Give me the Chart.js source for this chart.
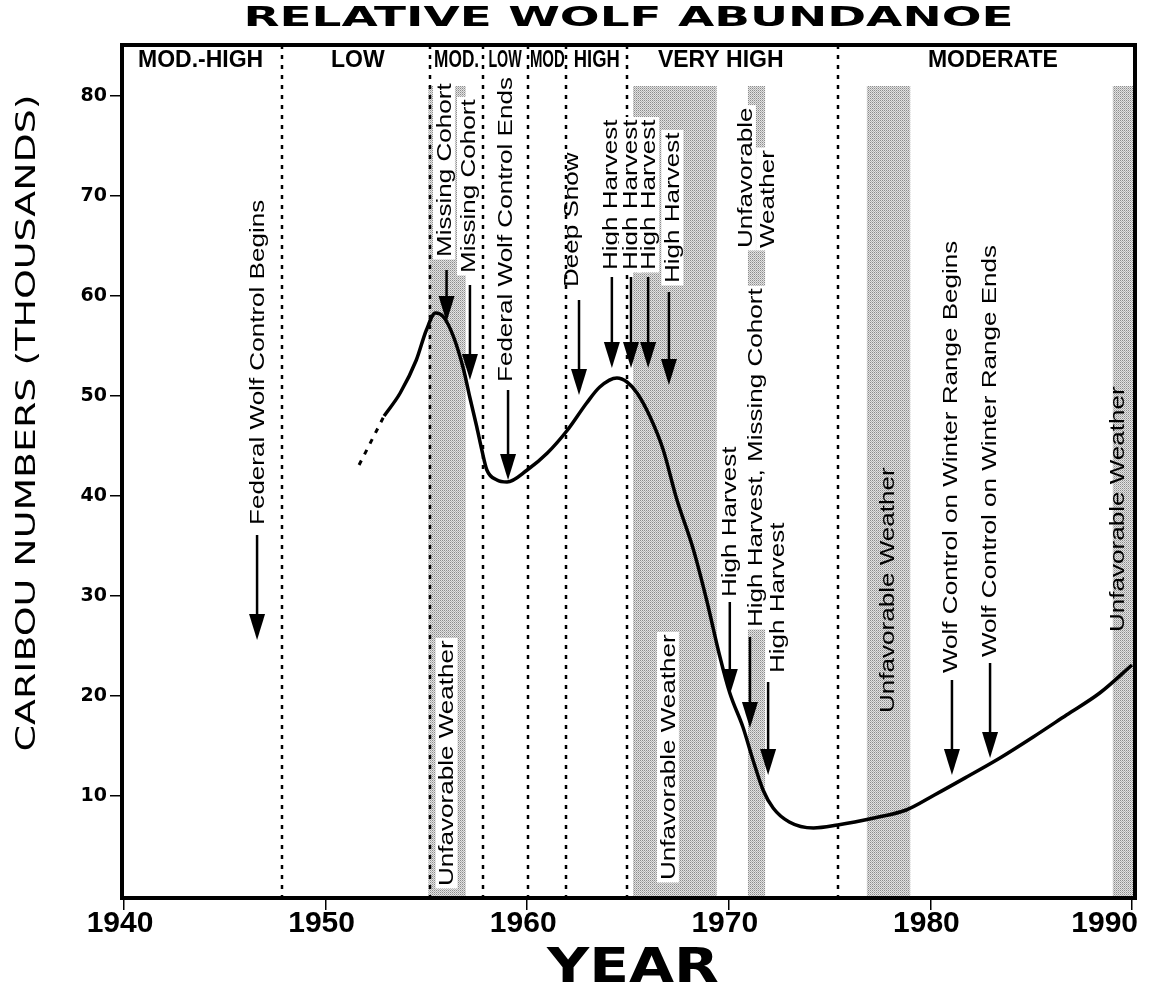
<!DOCTYPE html>
<html>
<head>
<meta charset="utf-8">
<script src="https://cdn.jsdelivr.net/npm/chart.js@4"></script>
<style>
  html, body { margin: 0; padding: 0; background: #fff; }
  canvas { display: block; }
</style>
</head>
<body>
<canvas id="wolfChart" width="1155" height="999"></canvas>
<script>
// caribou numbers (thousands)
const years = [1952.9, 1953.7, 1954.5, 1955.0, 1955.45, 1955.85, 1956.35, 1956.85, 1957.15, 1957.5,
  1957.75, 1958.0, 1958.5, 1959.0, 1960.0, 1961.0, 1962.0, 1962.95, 1963.6, 1964.45,
  1964.95, 1965.45, 1966.1, 1966.75, 1967.4, 1968.25, 1968.9, 1969.55, 1970.05, 1970.7,
  1971.2, 1971.7, 1972.2, 1973.0, 1974.2, 1975.4, 1977.2, 1978.8, 1980.2, 1981.8,
  1983.45, 1985.1, 1986.75, 1988.4, 1990.0];
const caribou = [48.0, 50.3, 53.6, 56.6, 58.3, 57.9, 55.9, 52.6, 49.9, 46.9,
  44.6, 42.6, 41.6, 41.4, 42.6, 44.3, 46.6, 49.3, 50.9, 51.8,
  51.4, 50.3, 47.9, 44.6, 39.8, 34.6, 29.6, 24.0, 20.3, 16.9,
  13.6, 10.6, 8.8, 7.4, 6.8, 7.1, 7.8, 8.6, 10.1, 11.9,
  13.8, 15.9, 18.1, 20.3, 23.1];
// uncertain early part (dashed)
const earlyYears = [1951.66, 1952.9];
const earlyCaribou = [43.1, 48.0];

const tickYears = [1940, 1950, 1960, 1970, 1980, 1990];
const tickValues = [10, 20, 30, 40, 50, 60, 70, 80];

// relative wolf abundance periods
const periodBreaks = [1947.85, 1955.2, 1957.8, 1960.05, 1961.9, 1964.95, 1975.4];
const periodNames = ['MOD.-HIGH', 'LOW', 'MOD.', 'LOW', 'MOD', 'HIGH', 'VERY HIGH', 'MODERATE'];
const periodMid = [1943.8, 1951.6, 1956.5, 1958.9, 1961.0, 1963.45, 1969.6, 1983.1];

// unfavorable weather bands
const bandStart = [1955.1, 1965.25, 1970.95, 1976.85, 1989.05];
const bandEnd = [1956.95, 1969.4, 1971.8, 1979.0, 1990.15];
const bandTop = 81;

// event arrows
const arrowYear = [1946.6, 1956.0, 1957.16, 1959.05, 1962.57, 1964.2, 1965.15, 1966.0, 1967.03,
  1970.05, 1971.05, 1971.95, 1981.07, 1982.96];
const arrowTop = [36.1, 62.6, 61.1, 50.6, 59.6, 61.9, 61.9, 61.9, 60.4, 29.4, 25.9, 21.4, 21.6, 23.3];
const arrowTip = [25.6, 57.4, 51.6, 41.6, 50.1, 52.8, 52.8, 52.8, 51.1, 20.1, 16.8, 12.1, 12.1, 13.8];

// event notes (vertical text, start value = lower end)
const noteText = ['Federal Wolf Control Begins', 'Missing Cohort', 'Missing Cohort',
  'Federal Wolf Control Ends', 'Deep Snow', 'High Harvest', 'High Harvest', 'High Harvest',
  'High Harvest', 'Unfavorable Weather', 'Unfavorable Weather', 'Unfavorable', 'Weather',
  'High Harvest', 'High Harvest, Missing Cohort', 'High Harvest', 'Unfavorable Weather',
  'Wolf Control on Winter Range Begins', 'Wolf Control on Winter Range Ends', 'Unfavorable Weather'];
const noteYear = [1946.6, 1955.87, 1957.06, 1958.9, 1962.2, 1964.1, 1965.1, 1966.0,
  1967.2, 1956.0, 1966.98, 1970.8, 1971.9, 1970.0, 1971.3, 1972.4, 1977.85,
  1981.0, 1982.9, 1989.26];
const noteStart = [37.1, 63.9, 62.3, 51.4, 60.9, 62.6, 62.6, 62.6, 61.3, 1.0, 1.6, 64.8, 64.8,
  29.9, 26.9, 22.3, 18.3, 22.3, 23.9, 26.4];
const noteBoxed = [false, true, true, false, false, false, true, true, true, true, true, true, true,
  false, true, false, false, false, false, false];

const SANS = '"Liberation Sans", Arial, sans-serif';
const WIDE = '"DejaVu Sans", sans-serif';
const periodSqueeze = [1, 1, 0.75, 0.62, 0.65, 0.8, 1, 1];

function stipple(ctx) {
  const c = document.createElement('canvas');
  c.width = 2; c.height = 2;
  const p = c.getContext('2d');
  p.fillStyle = '#e2e2e2'; p.fillRect(0, 0, 2, 2);
  p.fillStyle = '#8c8c8c'; p.fillRect(0, 0, 1, 1);
  p.fillStyle = '#b4b4b4'; p.fillRect(1, 1, 1, 1);
  return ctx.createPattern(c, 'repeat');
}

// text squeezed/stretched to a given width
function fitText(ctx, str, x, y, font, width, rot) {
  ctx.save();
  ctx.font = font;
  const w = ctx.measureText(str).width;
  ctx.translate(x, y);
  if (rot) ctx.rotate(rot);
  ctx.scale(width / w, 1);
  ctx.textAlign = 'center';
  ctx.textBaseline = 'middle';
  ctx.fillStyle = '#000';
  ctx.fillText(str, 0, 0);
  ctx.restore();
}

function note(ctx, str, x, y, boxed) {
  ctx.save();
  ctx.translate(x, y);
  ctx.rotate(-Math.PI / 2);
  ctx.scale(1.24, 1);
  ctx.font = '21px ' + SANS;
  ctx.textAlign = 'left';
  ctx.textBaseline = 'middle';
  if (boxed) {
    const w = ctx.measureText(str).width;
    ctx.fillStyle = '#fff';
    ctx.fillRect(-2, -11, w + 4, 22);
  }
  ctx.fillStyle = '#000';
  ctx.fillText(str, 0, 1);
  ctx.restore();
}

const decor = {
  id: 'decor',
  beforeDraw(chart) {
    const ctx = chart.ctx;
    ctx.save();
    ctx.fillStyle = '#fff';
    ctx.fillRect(0, 0, chart.width, chart.height);
    ctx.restore();
  },
  beforeDatasetsDraw(chart) {
    const { ctx, chartArea: a, scales: { x, y } } = chart;
    ctx.save();
    ctx.fillStyle = stipple(ctx);
    bandStart.forEach((s, i) => {
      const x0 = x.getPixelForValue(s), x1 = x.getPixelForValue(bandEnd[i]);
      const y0 = y.getPixelForValue(bandTop);
      ctx.fillRect(x0, y0, x1 - x0, a.bottom - y0);
    });
    ctx.strokeStyle = '#000';
    ctx.lineWidth = 2.5;
    ctx.setLineDash([4, 6]);
    periodBreaks.forEach(b => {
      const px = Math.round(x.getPixelForValue(b));
      ctx.beginPath();
      ctx.moveTo(px, a.top);
      ctx.lineTo(px, a.bottom);
      ctx.stroke();
    });
    ctx.setLineDash([]);
    noteText.forEach((t, i) => {
      note(ctx, t, x.getPixelForValue(noteYear[i]), y.getPixelForValue(noteStart[i]), noteBoxed[i]);
    });
    ctx.restore();
  },
  afterDatasetsDraw(chart) {
    const { ctx, chartArea: a, scales: { x, y } } = chart;
    ctx.save();
    // arrows
    ctx.fillStyle = '#000';
    ctx.strokeStyle = '#000';
    arrowYear.forEach((yr, i) => {
      const px = x.getPixelForValue(yr);
      const top = y.getPixelForValue(arrowTop[i]);
      const tip = y.getPixelForValue(arrowTip[i]);
      ctx.lineWidth = 2.5;
      ctx.beginPath();
      ctx.moveTo(px, top);
      ctx.lineTo(px, tip - 20);
      ctx.stroke();
      ctx.beginPath();
      ctx.moveTo(px - 8, tip - 26);
      ctx.lineTo(px + 8, tip - 26);
      ctx.lineTo(px, tip);
      ctx.closePath();
      ctx.fill();
    });
    // frame
    ctx.lineWidth = 4;
    ctx.strokeRect(a.left, a.top, a.right - a.left, a.bottom - a.top);
    // period names
    periodNames.forEach((n, i) => {
      ctx.save();
      ctx.font = 'bold 23px ' + SANS;
      ctx.translate(x.getPixelForValue(periodMid[i]), 61);
      ctx.scale(periodSqueeze[i], 1);
      ctx.textAlign = 'center';
      ctx.textBaseline = 'middle';
      ctx.fillText(n, 0, 0);
      ctx.restore();
    });
    // x tick labels
    ctx.font = 'bold 30px ' + SANS;
    ctx.textBaseline = 'middle';
    tickYears.forEach((t, i) => {
      const last = i === tickYears.length - 1;
      ctx.textAlign = last ? 'right' : 'center';
      ctx.fillText(String(t), last ? a.right + 3 : x.getPixelForValue(t) - 4, 924);
    });
    ctx.restore();
    // titles
    fitText(ctx, 'RELATIVE WOLF ABUNDANOE', (a.left + a.right) / 2, 19, 'bold 27px ' + WIDE, 770);
    fitText(ctx, 'YEAR', 633, 970, 'bold 48px ' + WIDE, 172);
    fitText(ctx, 'CARIBOU NUMBERS (THOUSANDS)', 28, 423, '27px ' + WIDE, 657, -Math.PI / 2);
  }
};

new Chart(document.getElementById('wolfChart'), {
  type: 'scatter',
  data: {
    datasets: [
      {
        data: earlyYears.map((v, i) => ({ x: v, y: earlyCaribou[i] })),
        showLine: true,
        borderColor: '#000',
        borderWidth: 3,
        borderDash: [5, 7],
        pointRadius: 0
      },
      {
        data: years.map((v, i) => ({ x: v, y: caribou[i] })),
        showLine: true,
        borderColor: '#000',
        borderWidth: 3.5,
        pointRadius: 0,
        cubicInterpolationMode: 'monotone'
      }
    ]
  },
  options: {
    responsive: false,
    animation: false,
    layout: { padding: { top: 45, right: 20, left: 0, bottom: 0 } },
    plugins: { legend: { display: false }, tooltip: { enabled: false } },
    scales: {
      x: {
        type: 'linear',
        min: 1939.9,
        max: 1990.15,
        afterBuildTicks: s => { s.ticks = tickYears.map(v => ({ value: v })); },
        afterFit: s => { s.height = 101; },
        ticks: { display: false },
        grid: { drawOnChartArea: false, tickLength: 12, color: '#000', lineWidth: 1.5 },
        border: { display: false }
      },
      y: {
        min: -0.2,
        max: 85.1,
        afterBuildTicks: s => { s.ticks = tickValues.map(v => ({ value: v })); },
        afterFit: s => { s.width = 122; },
        ticks: { color: '#000', padding: 3, font: { family: WIDE, weight: 'bold', size: 19 } },
        grid: { drawOnChartArea: false, tickLength: 12, color: '#000', lineWidth: 1.5 },
        border: { display: false }
      }
    }
  },
  plugins: [decor]
});
</script>
</body>
</html>
